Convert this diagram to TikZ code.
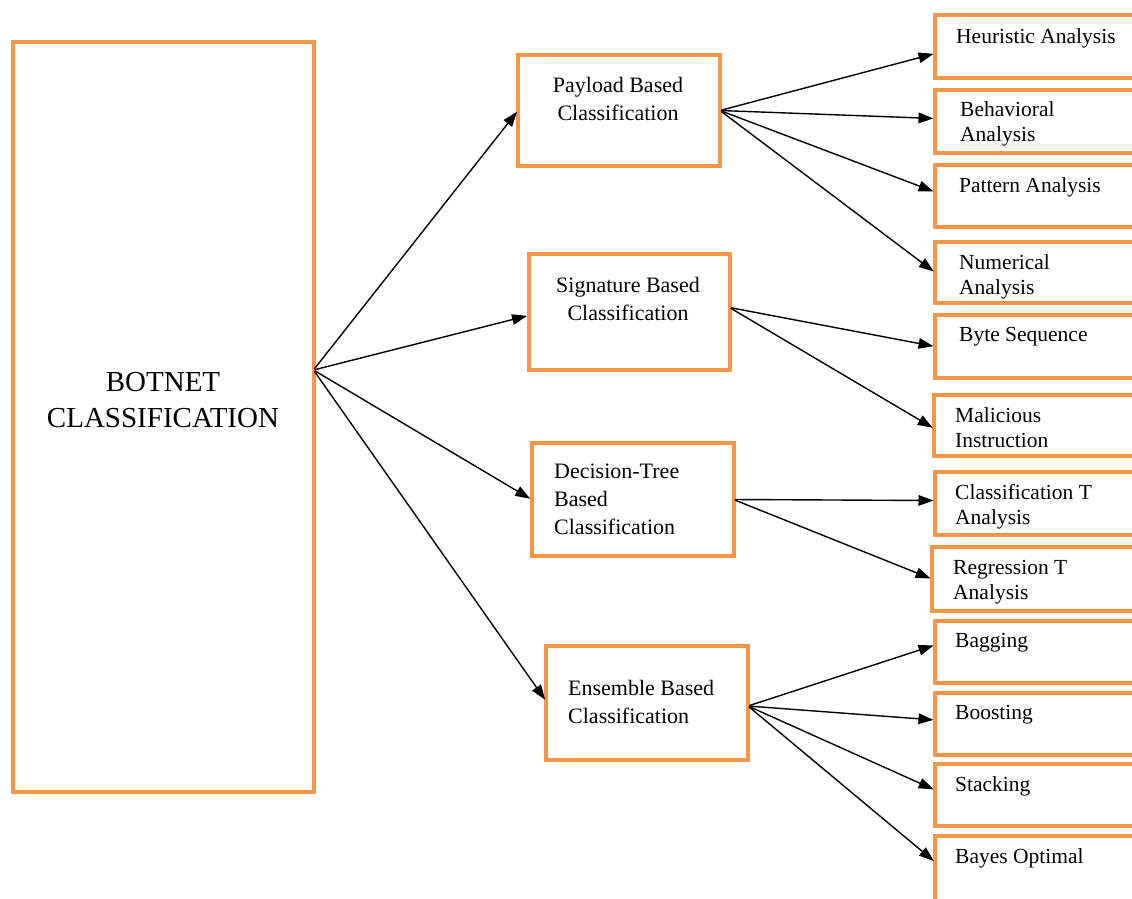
\documentclass[tikz,border=0pt]{standalone}
\usepackage{fontspec}
\setmainfont{Liberation Serif}
\usetikzlibrary{arrows.meta,calc}
\definecolor{boxorange}{RGB}{247,150,70}
\tikzset{
  obox/.style={draw=boxorange, line width=4pt, fill=white, inner sep=0pt, outer sep=0pt},
  rbox/.style={obox, minimum width=230pt},
  rtxt/.style={anchor=north west, inner sep=0pt, align=left,
    font=\fontsize{21.5}{25}\selectfont},
  mtxt/.style={inner sep=0pt, font=\fontsize{22}{28}\selectfont},
  arr/.style={-{Triangle[length=15pt,width=10.5pt]}, line width=1.4pt, black,
    shorten >=1.5pt, shorten <=1.5pt}
}
\begin{document}
\begin{tikzpicture}[x=1pt,y=-1pt]
\useasboundingbox (0,0) rectangle (1132,898);
\clip (0,0) rectangle (1132,898);

% root box
\node[obox, minimum width=301pt, minimum height=750pt] (root) at (163,416.5) {};
\node[inner sep=0pt, align=center, font=\fontsize{29}{36}\selectfont] (roott) at (163,400)
  {BOTNET\\CLASSIFICATION};
\coordinate (hub) at ($(root.east)+(0,-46.5)$);

% second level
\node[obox, minimum width=202pt, minimum height=111pt] (pay) at (619,110.5) {};
\node[mtxt, align=center] (payt) at (618,99) {Payload Based\\Classification};
\node[obox, minimum width=201pt, minimum height=116pt] (sig) at (629,311.5) {};
\node[mtxt, align=center] (sigt) at (628,299) {Signature Based\\Classification};
\node[obox, minimum width=202pt, minimum height=113pt] (dt) at (632.5,499.5) {};
\node[mtxt, align=left, anchor=west] (dtt) at (554,499) {Decision-Tree\\Based\\Classification};
\node[obox, minimum width=202pt, minimum height=114pt] (ens) at (647,703) {};
\node[mtxt, align=left, anchor=west] (enst) at (568,702) {Ensemble Based\\Classification};

% third level
\node[rbox, minimum height=63pt] (heu) at (1050,46.5) {};
\node[rtxt] (heut) at ($(heu.north west)+(21,13)$) {Heuristic Analysis};
\node[rbox, minimum height=63pt] (beh) at (1050,121.5) {};
\node[rtxt] (beht) at ($(beh.north west)+(25,11)$) {Behavioral\\Analysis};
\node[rbox, minimum height=62pt] (pat) at (1050,196) {};
\node[rtxt] (patt) at ($(pat.north west)+(24,12)$) {Pattern Analysis};
\node[rbox, minimum height=61pt] (num) at (1050,272.5) {};
\node[rtxt] (numt) at ($(num.north west)+(24,12)$) {Numerical\\Analysis};
\node[rbox, minimum height=63pt] (byt) at (1050,346.5) {};
\node[rtxt] (bytt) at ($(byt.north west)+(24,12)$) {Byte Sequence};
\node[rbox, minimum height=61pt] (mal) at (1049,425.5) {};
\node[rtxt] (malt) at ($(mal.north west)+(21,12)$) {Malicious\\Instruction};
\node[rbox, minimum height=63pt] (cla) at (1050,503.5) {};
\node[rtxt] (clat) at ($(cla.north west)+(20,12)$) {Classification T\\Analysis};
\node[rbox, minimum height=64pt] (reg) at (1047,579) {};
\node[rtxt] (regt) at ($(reg.north west)+(21,13)$) {Regression T\\Analysis};
\node[rbox, minimum height=62pt] (bag) at (1050,652) {};
\node[rtxt] (bagt) at ($(bag.north west)+(20,12)$) {Bagging};
\node[rbox, minimum height=62pt] (boo) at (1050,724) {};
\node[rtxt] (boot) at ($(boo.north west)+(20,12)$) {Boosting};
\node[rbox, minimum height=62pt] (sta) at (1050,795) {};
\node[rtxt] (stat) at ($(sta.north west)+(20,12)$) {Stacking};
\node[rbox, minimum height=76pt] (bay) at (1050,874) {};
\node[rtxt] (bayt) at ($(bay.north west)+(20,12)$) {Bayes Optimal};

% connectors
\draw[arr] (hub) -- (pay.west);
\draw[arr] (hub) -- ($(sig.west)+(0,4)$);
\draw[arr] (hub) -- (dt.west);
\draw[arr] (hub) -- ($(ens.west)+(0,-2)$);

\draw[arr] (pay.east) -- ($(heu.west)+(0,7)$);
\draw[arr] (pay.east) -- ($(beh.west)+(0,-3)$);
\draw[arr] (pay.east) -- ($(pat.west)+(0,-4)$);
\draw[arr] (pay.east) -- (num.west);

\draw[arr] ($(sig.east)+(0,-4)$) -- (byt.west);
\draw[arr] ($(sig.east)+(0,-4)$) -- ($(mal.west)+(0,3)$);

\draw[arr] (dt.east) -- ($(cla.west)+(0,-3)$);
\draw[arr] (dt.east) -- (reg.west);

\draw[arr] ($(ens.east)+(0,3)$) -- ($(bag.west)+(0,-7)$);
\draw[arr] ($(ens.east)+(0,3)$) -- ($(boo.west)+(0,-4)$);
\draw[arr] ($(ens.east)+(0,3)$) -- ($(sta.west)+(0,-5)$);
\draw[arr] ($(ens.east)+(0,3)$) -- ($(bay.west)+(0,-12)$);
\end{tikzpicture}
\end{document}
